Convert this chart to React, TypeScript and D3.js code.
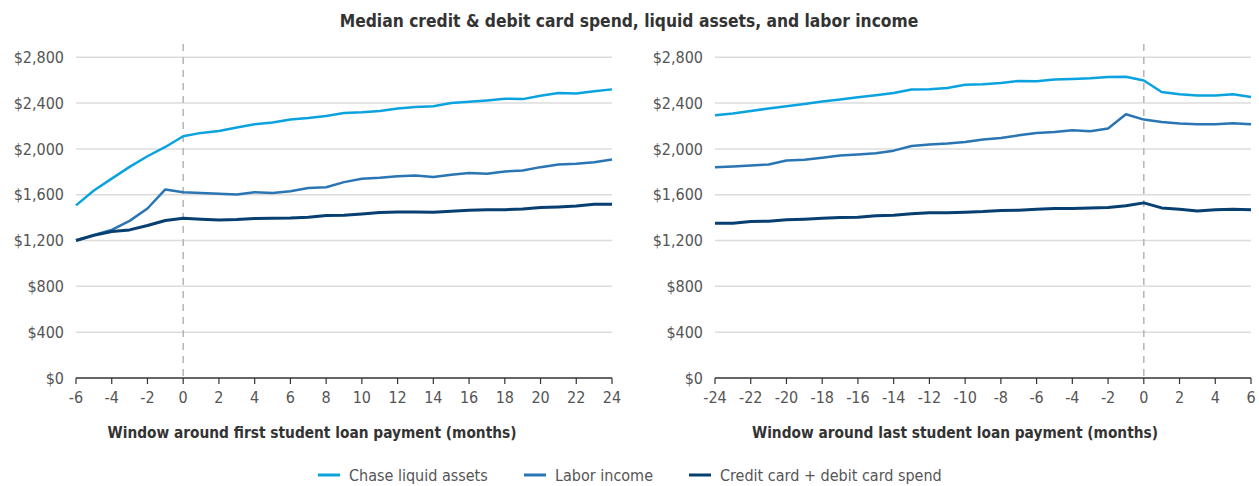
import * as d3 from 'd3'

const monthsFirst = [-6, -5, -4, -3, -2, -1, 0, 1, 2, 3, 4, 5, 6, 7, 8, 9, 10, 11, 12, 13, 14, 15, 16, 17, 18, 19, 20, 21, 22, 23, 24]
const monthsLast = [-24, -23, -22, -21, -20, -19, -18, -17, -16, -15, -14, -13, -12, -11, -10, -9, -8, -7, -6, -5, -4, -3, -2, -1, 0, 1, 2, 3, 4, 5, 6]

const chaseFirst = [1507, 1637, 1741, 1843, 1936, 2017, 2111, 2140, 2157, 2187, 2215, 2230, 2256, 2270, 2288, 2314, 2320, 2332, 2353, 2367, 2373, 2401, 2411, 2423, 2438, 2435, 2464, 2488, 2483, 2503, 2520]
const laborFirst = [1200, 1248, 1293, 1372, 1480, 1646, 1622, 1615, 1608, 1602, 1622, 1616, 1631, 1658, 1666, 1710, 1740, 1748, 1762, 1768, 1754, 1775, 1789, 1783, 1803, 1812, 1841, 1864, 1870, 1884, 1908]
const spendFirst = [1200, 1245, 1279, 1293, 1331, 1375, 1395, 1386, 1380, 1383, 1392, 1395, 1397, 1403, 1418, 1420, 1432, 1444, 1450, 1450, 1447, 1455, 1464, 1470, 1470, 1476, 1488, 1494, 1502, 1517, 1517]

const chaseLast = [2294, 2309, 2332, 2353, 2373, 2393, 2414, 2431, 2451, 2469, 2489, 2519, 2521, 2532, 2560, 2564, 2576, 2593, 2591, 2606, 2611, 2617, 2628, 2631, 2597, 2497, 2477, 2466, 2466, 2477, 2454]
const laborLast = [1841, 1847, 1856, 1864, 1899, 1905, 1923, 1943, 1952, 1963, 1985, 2026, 2038, 2047, 2060, 2082, 2096, 2119, 2140, 2148, 2163, 2154, 2178, 2303, 2256, 2236, 2222, 2216, 2216, 2225, 2216]
const spendLast = [1352, 1352, 1366, 1369, 1381, 1387, 1395, 1401, 1404, 1416, 1421, 1433, 1442, 1442, 1448, 1453, 1462, 1465, 1474, 1479, 1479, 1485, 1488, 1503, 1529, 1485, 1474, 1459, 1468, 1474, 1468]

const yTicks = [0, 400, 800, 1200, 1600, 2000, 2400, 2800]
const xTicksFirst = [-6, -4, -2, 0, 2, 4, 6, 8, 10, 12, 14, 16, 18, 20, 22, 24]
const xTicksLast = [-24, -22, -20, -18, -16, -14, -12, -10, -8, -6, -4, -2, 0, 2, 4, 6]

const seriesNames = ['Chase liquid assets', 'Labor income', 'Credit card + debit card spend']
const colors = ['#0aa2df', '#2a75b3', '#073f70']
const widths = [2.5, 2.5, 3]

const W = 1259
const H = 486
const FONT = "'Liberation Sans Narrow', 'DejaVu Sans Condensed', 'Roboto', sans-serif"

const y = d3.scaleLinear().domain([0, 2800]).range([378, 57.3])

function Panel({ months, series, ticks, x0, x1, title, titleX }: any) {
  const x = d3.scaleLinear().domain(d3.extent(months) as [number, number]).range([x0, x1])
  const line = d3.line<number>()
    .x((_, i) => x(months[i]))
    .y(d => y(d))
  return (
    <g>
      {yTicks.slice(1).map(t => (
        <line key={t} x1={x0} x2={x1} y1={y(t)} y2={y(t)} stroke="#dcdcdc" strokeWidth={1.5} />
      ))}
      {yTicks.map(t => (
        <text key={t} x={x0 - 12} y={y(t)} dy="0.35em" textAnchor="end" fontSize={16} fill="#555" fontFamily={FONT}>
          {d3.format('$,')(t)}
        </text>
      ))}
      <line x1={x(0)} x2={x(0)} y1={44} y2={y(0)} stroke="#b5b5b5" strokeWidth={1.5} strokeDasharray="7,6" />
      {series.map((s: number[], i: number) => (
        <path key={i} d={line(s) || ''} fill="none" stroke={colors[i]} strokeWidth={widths[i]} strokeLinejoin="round" />
      ))}
      <line x1={x0} x2={x1} y1={y(0)} y2={y(0)} stroke="#333" strokeWidth={1.3} />
      {ticks.map((t: number) => (
        <g key={t}>
          <line x1={x(t)} x2={x(t)} y1={y(0)} y2={y(0) + 6} stroke="#333" strokeWidth={1.2} />
          <text x={x(t)} y={y(0) + 25} textAnchor="middle" fontSize={16} fill="#555" fontFamily={FONT}>{t}</text>
        </g>
      ))}
      <text x={titleX} y={438} textAnchor="middle" fontSize={15.3} fontWeight="bold" fill="#333" fontFamily={FONT}>{title}</text>
    </g>
  )
}

export default function App() {
  const legendX = [318, 524, 689]
  return (
    <svg width={W} height={H} style={{ position: 'absolute', left: 0, top: 0, background: '#fff' }}>
      <text x={629} y={27} textAnchor="middle" fontSize={17.3} fontWeight="bold" fill="#333" fontFamily={FONT}>
        Median credit &amp; debit card spend, liquid assets, and labor income
      </text>
      <Panel months={monthsFirst} series={[chaseFirst, laborFirst, spendFirst]} ticks={xTicksFirst}
        x0={76} x1={612} title="Window around first student loan payment (months)" titleX={312} />
      <Panel months={monthsLast} series={[chaseLast, laborLast, spendLast]} ticks={xTicksLast}
        x0={715} x1={1251} title="Window around last student loan payment (months)" titleX={955} />
      {seriesNames.map((n, i) => (
        <g key={n} transform={`translate(${legendX[i]},475)`}>
          <line x1={0} x2={22} y1={0} y2={0} stroke={colors[i]} strokeWidth={3} />
          <text x={31} y={0} dy="0.35em" fontSize={16} fill="#555" fontFamily={FONT}>{n}</text>
        </g>
      ))}
    </svg>
  )
}
